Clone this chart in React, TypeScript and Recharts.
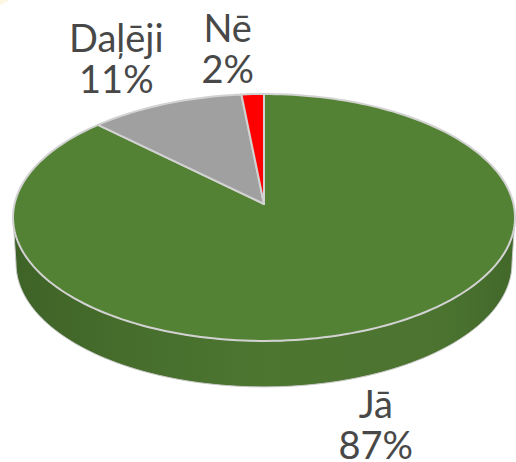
import React from "react";
import { PieChart, Pie, Cell } from "recharts";

const categories = ["Jā", "Daļēji", "Nē"];
const shares = [87.3, 11.1, 1.6];
const colors = ["#548235", "#a0a0a0", "#ff0000"];
const data = categories.map((name, i) => ({ name, value: shares[i] }));

// Label offsets from the projected rim point of each slice
const labelOffsets: Record<string, [number, number]> = {
  "Jā": [4, 89],
  "Daļēji": [-49, -52],
  "Nē": [-25, -52],
};

// Perspective projection of the pie disc
const K = 0.109;
const XSCALE = 249.5 / 122;
const DEPTH = 46;
const BOTTOM_SHRINK = 0.988;
const RAD = Math.PI / 180;

type P = [number, number];
const project = (cx: number, cy: number, r: number, deg: number, lower = false): P => {
  const u = Math.cos(deg * RAD);
  const v = Math.sin(deg * RAD);
  const d = 1 + K * v;
  const s = lower ? BOTTOM_SHRINK : 1;
  return [cx + (r * XSCALE * s * u) / d, cy + (lower ? DEPTH : 0) - (r * v) / d];
};

const sample = (from: number, to: number) => {
  const n = Math.max(2, Math.ceil(Math.abs(to - from) / 1.5));
  return Array.from({ length: n + 1 }, (_, i) => from + ((to - from) * i) / n);
};
const toPath = (pts: P[]) => pts.map((p, i) => `${i ? "L" : "M"}${p[0].toFixed(2)} ${p[1].toFixed(2)}`).join(" ");

const TopSlice = (props: any) => {
  const { cx, cy, outerRadius, startAngle, endAngle, fill } = props;
  const pts = sample(startAngle, endAngle).map((a) => project(cx, cy, outerRadius, a));
  return <path d={`M${cx} ${cy} ${toPath(pts).replace("M", "L")} Z`} fill={fill} stroke="#d2d2d2" strokeWidth={2} strokeLinejoin="round" />;
};

const WallSlice = (props: any) => {
  const { cx, cy, outerRadius, startAngle, endAngle, index } = props;
  // visible front of the rim: silhouette tangents sit slightly forward of the horizontal axis
  const tangent = Math.asin(K) / RAD;
  const from = Math.max(Math.min(startAngle, endAngle), -180 + tangent);
  const to = Math.min(Math.max(startAngle, endAngle), -tangent);
  if (to <= from) return <g />;
  const angles = sample(from, to);
  const top = angles.map((a) => project(cx, cy, outerRadius, a));
  const bottom = angles.map((a) => project(cx, cy, outerRadius, a, true)).reverse();
  const gid = `wall-${index}`;
  return (
    <g>
      <defs>
        <linearGradient id={gid} x1="0" y1="0" x2="1" y2="0">
          <stop offset="0" stopColor="#3f6327" />
          <stop offset="0.22" stopColor="#466d2c" />
          <stop offset="0.5" stopColor="#4d7631" />
          <stop offset="0.85" stopColor="#4c7430" />
          <stop offset="1" stopColor="#42682a" />
        </linearGradient>
      </defs>
      <path d={`${toPath(top)} ${toPath(bottom).replace("M", "L")} Z`} fill={`url(#${gid})`} stroke="#c9c9c9" strokeWidth={1} strokeLinejoin="round" />
    </g>
  );
};

const SliceLabel = (props: any) => {
  const { cx, cy, outerRadius, midAngle, name, percent } = props;
  const [px, py] = project(cx, cy, outerRadius, midAngle);
  const [dx, dy] = labelOffsets[name];
  const x = px + dx;
  const y = py + dy;
  return (
    <text x={x} y={y} textAnchor="middle" fill="#484848" fontFamily="Lato, Carlito, sans-serif" fontSize={38}>
      <tspan x={x} y={y}>{name}</tspan>
      <tspan x={x} y={y + 41}>{`${Math.round(percent * 100)}%`}</tspan>
    </text>
  );
};

export default function App() {
  return (
    <div style={{ position: "absolute", left: 0, top: 0, width: 516, height: 462, overflow: "hidden", background: "#ffffff" }}>
      <div style={{ position: "absolute", left: -40, top: -40, width: 58, height: 47, borderRadius: "50%", background: "#fdf7e3" }} />
      <div style={{ position: "absolute", left: 0, top: 0 }}>
        <PieChart width={516} height={462} margin={{ top: 0, right: 0, bottom: 0, left: 0 }}>
          <Pie
            data={data}
            dataKey="value"
            nameKey="name"
            cx={264}
            cy={204}
            outerRadius={122}
            startAngle={90}
            endAngle={-270}
            isAnimationActive={false}
            shape={WallSlice}
            label={false}
            labelLine={false}
          >
            {data.map((d, i) => <Cell key={d.name} fill={colors[i]} />)}
          </Pie>
          <Pie
            data={data}
            dataKey="value"
            nameKey="name"
            cx={264}
            cy={204}
            outerRadius={122}
            startAngle={90}
            endAngle={-270}
            isAnimationActive={false}
            shape={TopSlice}
            label={SliceLabel}
            labelLine={false}
          >
            {data.map((d, i) => <Cell key={d.name} fill={colors[i]} />)}
          </Pie>
        </PieChart>
      </div>
    </div>
  );
}
